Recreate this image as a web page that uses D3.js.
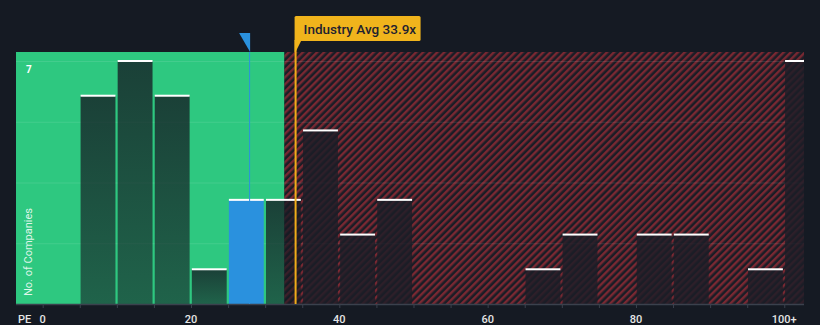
<!DOCTYPE html>
<html><head><meta charset="utf-8">
<script src="https://cdn.jsdelivr.net/npm/d3@7"></script>
<style>
html,body{margin:0;padding:0;background:#151a23;}
svg{display:block;}
</style></head>
<body>
<svg id="chart" width="820" height="325"></svg>
<script>
// ---- data ----
const binStarts = [0,5,10,15,20,25,30,35,40,45,50,55,60,65,70,75,80,85,90,95,100];
const counts    = [0,6,7,6,1,3,3,5,2,3,0,0,0,1,2,0,2,2,0,1,7];
const tickValues = [0,20,40,60,80,100];
const tickLabels = ["0","20","40","60","80","100+"];
const companyPE = 27.9;
const industryAvg = 33.9;
const fairThreshold = 32.6;
const companyBin = 25;
const yMaxCount = 7;
const gridCounts = [1.75,3.5,5.25,7];

(function(){
// ---- layout ----
const pLeft = 16, pRight = 804, pTop = 52, pBottom = 304;
const xMin = -3.6, xMax = 102.66;
const x = d3.scaleLinear().domain([xMin, xMax]).range([pLeft, pRight]);
const y = d3.scaleLinear().domain([0, yMaxCount]).range([pBottom, 61]);

const svg = d3.select("#chart");
const defs = svg.append("defs");
const pat = defs.append("pattern").attr("id","hatch").attr("patternUnits","userSpaceOnUse")
  .attr("width",5).attr("height",5).attr("patternTransform","rotate(45)");
pat.append("rect").attr("width",5).attr("height",5).attr("fill","#1a1d26");
pat.append("rect").attr("width",2.4).attr("height",5).attr("fill","#7a2832");

const gG = defs.append("linearGradient").attr("id","barG").attr("x1",0).attr("y1",0).attr("x2",0).attr("y2",1);
gG.append("stop").attr("offset","0%").attr("stop-color","#151a23").attr("stop-opacity",0.78);
gG.append("stop").attr("offset","100%").attr("stop-color","#151a23").attr("stop-opacity",0.58);

// background regions
svg.append("rect").attr("x",pLeft).attr("y",pTop).attr("width",x(fairThreshold)-pLeft).attr("height",pBottom-pTop).attr("fill","#2ec880");
svg.append("rect").attr("x",x(fairThreshold)).attr("y",pTop).attr("width",pRight-x(fairThreshold)).attr("height",pBottom-pTop).attr("fill","url(#hatch)");

// gridlines
svg.append("g").selectAll("line").data(gridCounts).join("line")
  .attr("x1",pLeft).attr("x2",pRight).attr("y1",d=>y(d)+0.5).attr("y2",d=>y(d)+0.5)
  .attr("stroke","#ffffff").attr("stroke-opacity",0.1).attr("stroke-width",1);

// bars
const bins = binStarts.map((s,i)=>({s, e: i<binStarts.length-1 ? binStarts[i+1] : xMax, c: counts[i]}));
const barsG = svg.append("g");
bins.filter(d=>d.c>0).forEach(d=>{
  const isLast = d.s === 100;
  const x0 = x(d.s)+0.8;
  const x1 = isLast ? x(d.e) : x(d.e)-1.4;
  const isCompany = d.s === companyBin;
  const inRed = d.s >= fairThreshold;
  barsG.append("rect").attr("x",x0).attr("y",y(d.c)).attr("width",x1-x0).attr("height",pBottom-y(d.c))
    .attr("fill", isCompany ? "#2a91de" : (inRed ? "#1c1d27" : "url(#barG)"))
    .attr("fill-opacity", inRed && !isCompany ? 0.82 : 1);
  barsG.append("rect").attr("x",x0).attr("y",y(d.c)-1).attr("width",x1-x0).attr("height",2).attr("fill","#ffffff");
});

// axis
const axis = d3.axisBottom(x).tickValues(d3.range(0,101,5)).tickSize(4).tickFormat("");
const ag = svg.append("g").attr("transform",`translate(0,${pBottom})`).call(axis);
ag.select(".domain").attr("stroke","#3b414d").attr("stroke-width",1.5).attr("d",`M${pLeft},0.5H${pRight}`);
ag.selectAll(".tick line").attr("stroke","#3b414d").attr("stroke-width",1);
svg.append("g").selectAll("text").data(tickValues).join("text")
  .attr("x",d=>x(d)).attr("y",322.5).attr("text-anchor","middle")
  .attr("font-family","Roboto, sans-serif").attr("font-size",11).attr("font-weight",500).attr("fill","#e6e6e6")
  .text((d,i)=>tickLabels[i]);
svg.append("text").attr("x",18).attr("y",322.5).attr("font-family","Roboto, sans-serif").attr("font-size",11)
  .attr("font-weight",500).attr("fill","#e6e6e6").text("PE");

// y labels
svg.append("text").attr("x",26).attr("y",y(yMaxCount)+12).attr("font-family","Roboto, sans-serif").attr("font-size",10)
  .attr("font-weight",700).attr("fill","#ffffff").text(String(yMaxCount));
svg.append("text").attr("transform",`translate(32,${252}) rotate(-90)`).attr("text-anchor","middle")
  .attr("font-family","Roboto, sans-serif").attr("font-size",11).attr("fill","#ffffff").attr("fill-opacity",0.85)
  .text("No. of Companies");

// company marker
const cx = x(companyPE);
svg.append("line").attr("x1",cx).attr("x2",cx).attr("y1",pTop).attr("y2",pBottom).attr("stroke","#2a91de").attr("stroke-width",1);
svg.append("path").attr("d",`M${cx-10.5},33 L${cx+0.5},33 L${cx+0.5},52 Z`).attr("fill","#2a91de");

// industry avg
const ax = x(industryAvg)+1.5;
svg.append("line").attr("x1",ax).attr("x2",ax).attr("y1",40).attr("y2",pBottom).attr("stroke","#f0ac1a").attr("stroke-width",2);
svg.append("path").attr("d",`M${ax-1},40 L${ax+6},40 L${ax},52 L${ax-1},52 Z`).attr("fill","#f0b41c");
svg.append("rect").attr("x",ax-1).attr("y",16).attr("width",126).attr("height",25).attr("rx",1.5).attr("fill","#f0b41c");
svg.append("text").attr("x",ax+8).attr("y",33.5).attr("font-family","Roboto, sans-serif").attr("font-size",13.5)
  .attr("font-weight",500).attr("fill","#1e2230").text(`Industry Avg ${industryAvg}x`);
})();
</script>
</body></html>
